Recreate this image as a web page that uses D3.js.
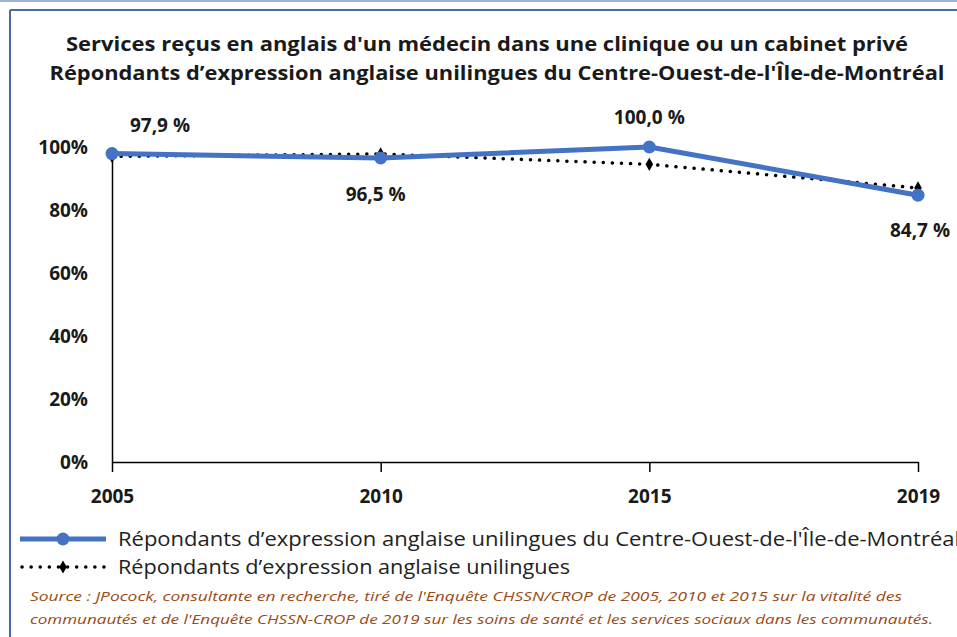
<!DOCTYPE html>
<html lang="fr">
<head>
<meta charset="UTF-8">
<title>Services reçus en anglais</title>
<script src="https://d3js.org/d3.v7.min.js"></script>
<style>
  body { margin: 0; background: #fff; }
  text { font-family: "Open Sans", "DejaVu Sans", sans-serif; }
</style>
</head>
<body>
<div class="canvas"></div>
<script>
  // données
  const years = ['2005', '2010', '2015', '2019']
  const ouestMontreal = [97.9, 96.5, 100.0, 84.7]
  const unilingues = [97.0, 97.8, 94.5, 87.0]
  const yTicks = [0, 20, 40, 60, 80, 100]
  const labelsOuest = ['97,9 %', '96,5 %', '100,0 %', '84,7 %']

  const W = 957, H = 637
  const svg = d3.select('.canvas').append('svg')
    .attr('width', W).attr('height', H)

  // cadre
  svg.append('line').attr('x1', 0).attr('x2', W).attr('y1', 1).attr('y2', 1)
    .attr('stroke', '#9db3d8').attr('stroke-width', 2)
  svg.append('line').attr('x1', 10).attr('x2', W).attr('y1', 10).attr('y2', 10)
    .attr('stroke', '#4a6aa5').attr('stroke-width', 2)
  svg.append('line').attr('x1', 10).attr('x2', 10).attr('y1', 10).attr('y2', H)
    .attr('stroke', '#4a6aa5').attr('stroke-width', 2)

  // titre
  const title = [
    {t: 'Services reçus en anglais  d\'un médecin dans une clinique  ou un cabinet privé', x: 487, y: 51, w: 842},
    {t: 'Répondants  d’expression anglaise  unilingues  du Centre-Ouest-de-l\'Île-de-Montréal', x: 497, y: 80, w: 895}
  ]
  svg.selectAll('.title').data(title).enter().append('text')
    .attr('x', d => d.x).attr('y', d => d.y)
    .attr('text-anchor', 'middle')
    .attr('font-size', 19).attr('font-weight', 'bold').attr('fill', '#1a1a1a')
    .attr('textLength', d => d.w).attr('lengthAdjust', 'spacingAndGlyphs')
    .text(d => d.t)

  const x = d3.scalePoint().domain(years).range([112, 918])
  const y = d3.scaleLinear().domain([0, 100]).range([462, 147])

  // axe Y
  const yAxis = svg.append('g').attr('transform', 'translate(112,0)')
    .call(d3.axisLeft(y).tickValues(yTicks).tickSize(0).tickPadding(24).tickFormat(d => d + '%'))
  yAxis.select('.domain').attr('stroke', '#000').attr('stroke-width', 1.5)
  yAxis.selectAll('text').attr('font-size', 19).attr('font-weight', 'bold').attr('fill', '#1a1a1a')
    .attr('dy', '0.35em')

  // axe X
  const xAxis = svg.append('g').attr('transform', 'translate(0,462)')
    .call(d3.axisBottom(x).tickSize(10).tickSizeOuter(0).tickPadding(18))
  xAxis.select('.domain').attr('stroke', '#000').attr('stroke-width', 1.5)
  xAxis.selectAll('line').attr('stroke', '#000').attr('stroke-width', 1.5)
  xAxis.selectAll('text').attr('font-size', 19).attr('font-weight', 'bold').attr('fill', '#1a1a1a')

  const line = d3.line().x((d, i) => x(years[i])).y(d => y(d))

  // série pointillée
  svg.append('path').datum(unilingues)
    .attr('d', line).attr('fill', 'none')
    .attr('stroke', '#000').attr('stroke-width', 3.5)
    .attr('stroke-linecap', 'round').attr('stroke-dasharray', '0.1,9')
  svg.selectAll('.m2').data(unilingues).enter().append('path')
    .attr('transform', (d, i) => `translate(${x(years[i])},${y(d)})`)
    .attr('d', d3.symbol(d3.symbolDiamond, 50)).attr('fill', '#000')

  // série bleue
  svg.append('path').datum(ouestMontreal)
    .attr('d', line).attr('fill', 'none')
    .attr('stroke', '#4472c4').attr('stroke-width', 5)
    .attr('stroke-linejoin', 'round')
  svg.selectAll('.m1').data(ouestMontreal).enter().append('circle')
    .attr('cx', (d, i) => x(years[i])).attr('cy', d => y(d)).attr('r', 6.5)
    .attr('fill', '#4472c4')

  // étiquettes
  const labelPos = [[48, -22], [-5, 43], [0, -23], [2, 42]]
  svg.selectAll('.lab').data(ouestMontreal).enter().append('text')
    .attr('x', (d, i) => x(years[i]) + labelPos[i][0])
    .attr('y', (d, i) => y(d) + labelPos[i][1])
    .attr('text-anchor', 'middle')
    .attr('font-size', 19).attr('font-weight', 'bold').attr('fill', '#1a1a1a')
    .text((d, i) => labelsOuest[i])

  // légende
  const leg = [
    {t: 'Répondants d’expression anglaise unilingues du Centre-Ouest-de-l\'Île-de-Montréal', y: 539, w: 842},
    {t: 'Répondants d’expression anglaise unilingues', y: 567, w: 452}
  ]
  svg.append('line').attr('x1', 20).attr('x2', 106).attr('y1', leg[0].y).attr('y2', leg[0].y)
    .attr('stroke', '#4472c4').attr('stroke-width', 5)
  svg.append('circle').attr('cx', 63).attr('cy', leg[0].y).attr('r', 6.5).attr('fill', '#4472c4')
  svg.append('line').attr('x1', 22).attr('x2', 106).attr('y1', leg[1].y).attr('y2', leg[1].y)
    .attr('stroke', '#000').attr('stroke-width', 3.5)
    .attr('stroke-linecap', 'round').attr('stroke-dasharray', '0.1,9')
  svg.append('path').attr('transform', `translate(63,${leg[1].y})`)
    .attr('d', d3.symbol(d3.symbolDiamond, 50)).attr('fill', '#000')
  svg.selectAll('.leg').data(leg).enter().append('text')
    .attr('x', 118).attr('y', d => d.y).attr('dy', '0.35em')
    .attr('font-size', 20).attr('fill', '#222')
    .attr('textLength', d => d.w).attr('lengthAdjust', 'spacingAndGlyphs')
    .text(d => d.t)

  // source
  const source = [
    {t: 'Source : JPocock, consultante en recherche, tiré de l\'Enquête CHSSN/CROP de 2005, 2010 et 2015 sur la vitalité des', y: 601, w: 872},
    {t: 'communautés et de l\'Enquête CHSSN-CROP de 2019 sur les soins de santé et les services sociaux dans les communautés.', y: 624, w: 903}
  ]
  svg.selectAll('.src').data(source).enter().append('text')
    .attr('x', 30).attr('y', d => d.y)
    .attr('font-size', 13).attr('font-style', 'italic').attr('fill', '#9a4a12')
    .attr('textLength', d => d.w).attr('lengthAdjust', 'spacingAndGlyphs')
    .text(d => d.t)
</script>
</body>
</html>
